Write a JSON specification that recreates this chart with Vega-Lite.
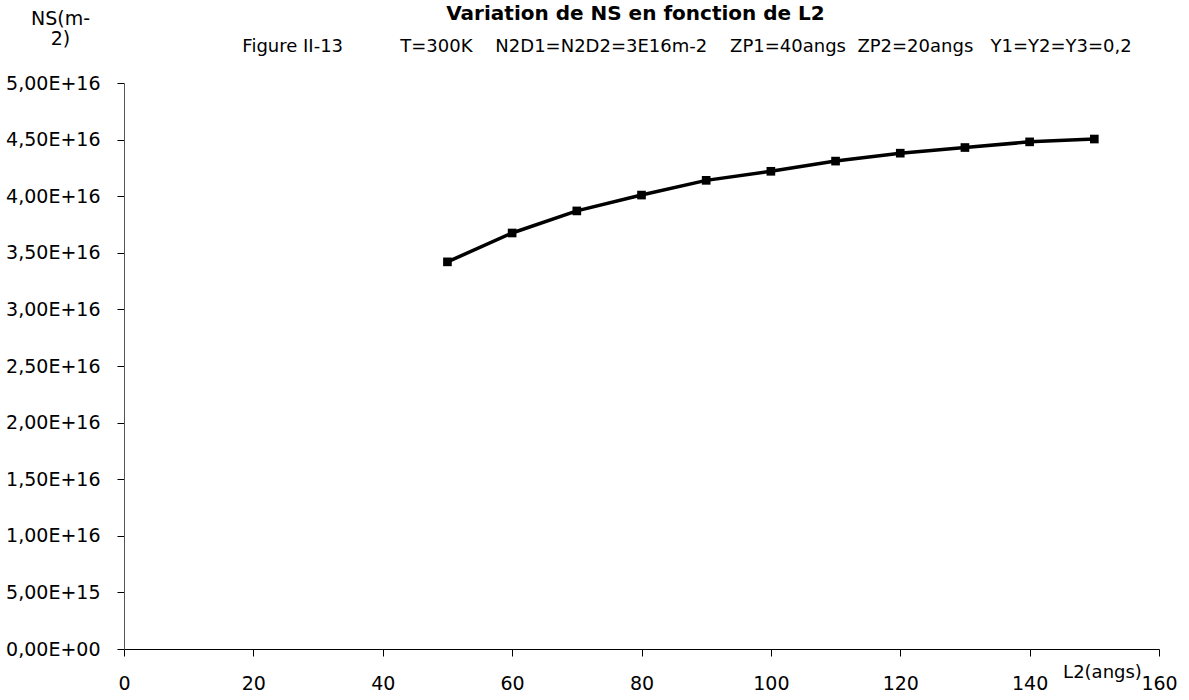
{
  "$schema": "https://vega.github.io/schema/vega-lite/v6.json",
  "width": 1035,
  "height": 566,
  "autosize": {"type": "none"},
  "padding": {"left": 124, "top": 83, "right": 30, "bottom": 51},
  "background": "white",
  "title": {
    "text": "Variation de NS en fonction de L2",
    "subtitle": "\u200b\u00a0\u00a0\u00a0\u00a0\u00a0\u00a0\u00a0\u00a0\u00a0\u00a0\u00a0\u00a0\u00a0\u00a0\u00a0\u00a0\u00a0\u00a0Figure II-13\u00a0\u00a0\u00a0\u00a0\u00a0\u00a0\u00a0\u00a0\u00a0\u00a0T=300K\u00a0\u00a0\u00a0\u00a0N2D1=N2D2=3E16m-2\u00a0\u00a0\u00a0\u00a0ZP1=40angs\u00a0\u00a0ZP2=20angs\u00a0\u00a0\u00a0Y1=Y2=Y3=0,2",
    "anchor": "middle",
    "dx": -6,
    "font": "DejaVu Sans",
    "fontSize": 20,
    "fontWeight": "bold",
    "color": "black",
    "subtitleFont": "DejaVu Sans",
    "subtitleFontSize": 18,
    "subtitleColor": "black",
    "subtitlePadding": 14,
    "offset": -47
  },
  "data": {
    "values": [
      {"L2": 50, "NS": 3.42e16},
      {"L2": 60, "NS": 3.675e16},
      {"L2": 70, "NS": 3.87e16},
      {"L2": 80, "NS": 4.01e16},
      {"L2": 90, "NS": 4.14e16},
      {"L2": 100, "NS": 4.22e16},
      {"L2": 110, "NS": 4.31e16},
      {"L2": 120, "NS": 4.38e16},
      {"L2": 130, "NS": 4.43e16},
      {"L2": 140, "NS": 4.48e16},
      {"L2": 150, "NS": 4.505e16}
    ]
  },
  "mark": {
    "type": "line",
    "color": "black",
    "strokeWidth": 3.5,
    "point": {"shape": "square", "size": 75, "filled": true, "color": "black"}
  },
  "encoding": {
    "x": {
      "field": "L2",
      "type": "quantitative",
      "scale": {"domain": [0, 160], "nice": false, "zero": false},
      "axis": {
        "values": [0, 20, 40, 60, 80, 100, 120, 140, 160],
        "grid": false,
        "domainColor": "black",
        "domainWidth": 1.2,
        "tickColor": "black",
        "tickSize": 7,
        "labelFlush": false,
        "labelFont": "DejaVu Sans",
        "labelFontSize": 19,
        "labelColor": "black",
        "labelPadding": 18,
        "title": "L2(angs)",
        "titleFont": "DejaVu Sans",
        "titleFontSize": 18,
        "titleFontWeight": "normal",
        "titleColor": "black",
        "titleX": 978,
        "titleY": 23,
        "titleAlign": "center",
        "titleBaseline": "middle"
      }
    },
    "y": {
      "field": "NS",
      "type": "quantitative",
      "scale": {"domain": [0, 5e16], "nice": false},
      "axis": {
        "values": [0, 5e15, 1e16, 1.5e16, 2e16, 2.5e16, 3e16, 3.5e16, 4e16, 4.5e16, 5e16],
        "grid": false,
        "domainColor": "#555555",
        "domainWidth": 1,
        "tickColor": "black",
        "tickSize": 7,
        "labelFlush": false,
        "labelFont": "DejaVu Sans",
        "labelFontSize": 19,
        "labelColor": "black",
        "labelPadding": 17,
        "labelExpr": "datum.value == 0 ? '0,00E+00' : replace(upper(format(datum.value, '.2e')), '.', ',')",
        "title": ["NS(m-", "2)"],
        "titleFont": "DejaVu Sans",
        "titleFontSize": 19,
        "titleFontWeight": "normal",
        "titleColor": "black",
        "titleAngle": 0,
        "titleX": -64,
        "titleY": -65,
        "titleAlign": "center",
        "titleBaseline": "middle",
        "titleLineHeight": 20
      }
    }
  },
  "config": {"view": {"stroke": null}}
}
